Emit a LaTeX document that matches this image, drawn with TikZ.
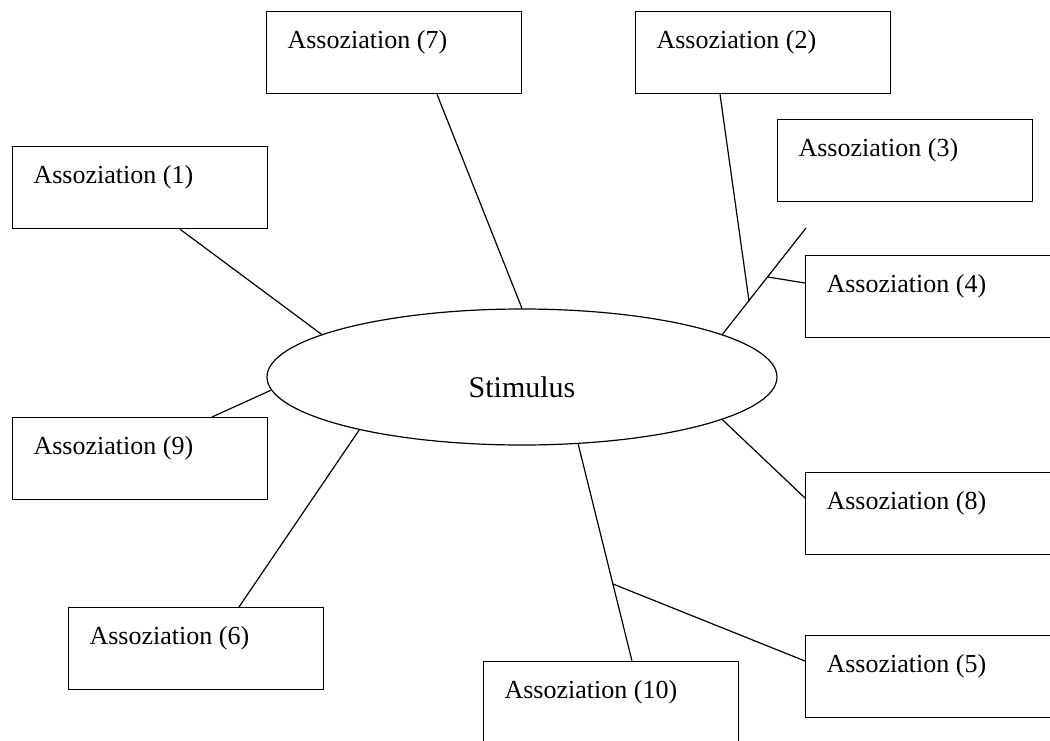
\documentclass[tikz,border=0pt]{standalone}
\usepackage{fontspec}
\setmainfont{Liberation Serif}
\usetikzlibrary{calc,shapes.geometric}

\begin{document}
\begin{tikzpicture}[
  x=0.5pt, y=-0.5pt, line width=0.6pt,
  assoc/.style={draw, anchor=north west, inner xsep=10.5pt, inner ysep=0pt, text width=106.5pt, align=flush left,
    text height=18.5pt, text depth=22.5pt, font=\fontsize{13}{15}\selectfont},
  stimbox/.style={draw, ellipse, inner sep=0pt, minimum width=255pt, minimum height=68pt,
    text height=20pt, text depth=0pt, font=\fontsize{15}{18}\selectfont}
]
\path[use as bounding box, fill=white] (0,0) rectangle (1050,740);
\clip (0,0) rectangle (1050,740);

\node[stimbox] (stim) at (522,377) {Stimulus};

\node[assoc] (assoc1) at (12,146) {Assoziation (1)};
\node[assoc] (assoc7) at (266,11) {Assoziation (7)};
\node[assoc] (assoc2) at (635,11) {Assoziation (2)};
\node[assoc] (assoc3) at (777,119) {Assoziation (3)};
\node[assoc] (assoc4) at (805,255) {Assoziation (4)};
\node[assoc] (assoc9) at (12,417) {Assoziation (9)};
\node[assoc] (assoc8) at (805,472) {Assoziation (8)};
\node[assoc] (assoc6) at (68,607) {Assoziation (6)};
\node[assoc] (assoc5) at (805,635) {Assoziation (5)};
\node[assoc] (assoc10) at (483,661) {Assoziation (10)};

% free end of the right branch and the points where lines meet
\coordinate (tail) at (806,228);
\coordinate (top10) at ($(assoc10.north west)+(149,0)$);
\coordinate (j2) at ($(stim.12)!0.318!(tail)$);
\coordinate (j4) at ($(stim.12)!0.54!(tail)$);
\coordinate (j5) at ($(stim.310)!0.645!(top10)$);

\draw (stim.168) -- ($(assoc1.south west)+(168,0)$);
\draw (stim.90) -- ($(assoc7.south west)+(171,0)$);
\draw (stim.12) -- (tail);
\draw ($(assoc2.south west)+(85,0)$) -- (j2);
\draw (j4) -- ($(assoc4.north west)+(0,28)$);
\draw (stim.183) -- ($(assoc9.north west)+(200,0)$);
\draw (stim.198) -- ($(assoc6.north west)+(171,0)$);
\draw (stim.348) -- ($(assoc8.north west)+(0,26)$);
\draw (stim.310) -- (top10);
\draw (j5) -- ($(assoc5.north west)+(0,26)$);
\end{tikzpicture}
\end{document}
